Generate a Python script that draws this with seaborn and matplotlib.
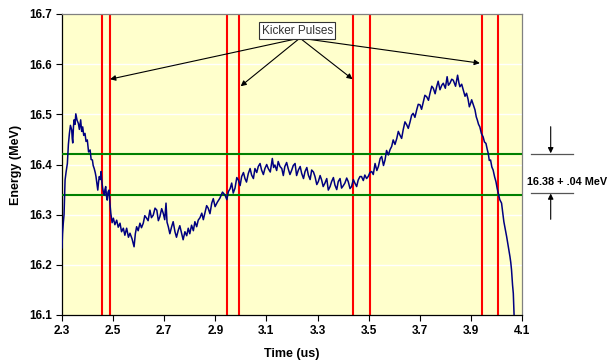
import matplotlib
matplotlib.use("Agg")
import matplotlib.pyplot as plt
import seaborn as sns
import numpy as np

# ---- data ----
time_us = [
2.300,2.302,2.305,2.308,2.312,2.316,2.321,2.325,2.329,2.333,2.338,2.340,2.342,2.345,2.347,2.351,2.354,2.359,2.364,2.368,
2.373,2.377,2.381,2.385,2.390,2.394,2.399,2.404,2.410,2.414,2.419,2.422,2.426,2.430,2.433,2.437,2.440,2.443,2.446,2.450,
2.453,2.456,2.459,2.462,2.466,2.468,2.471,2.474,2.477,2.480,2.484,2.488,2.491,2.496,2.501,2.507,2.514,2.520,2.527,2.533,
2.540,2.546,2.553,2.560,2.566,2.574,2.582,2.587,2.592,2.598,2.605,2.611,2.618,2.624,2.631,2.637,2.644,2.650,2.657,2.664,
2.671,2.677,2.683,2.690,2.696,2.702,2.707,2.711,2.716,2.722,2.729,2.735,2.742,2.748,2.755,2.761,2.768,2.774,2.781,2.788,
2.794,2.800,2.807,2.814,2.820,2.827,2.833,2.840,2.847,2.853,2.859,2.866,2.872,2.879,2.886,2.892,2.899,2.908,2.918,2.928,
2.938,2.945,2.951,2.958,2.964,2.970,2.977,2.984,2.990,2.997,3.003,3.010,3.016,3.022,3.029,3.036,3.042,3.049,3.055,3.062,
3.068,3.075,3.081,3.088,3.094,3.101,3.107,3.115,3.123,3.128,3.133,3.140,3.146,3.153,3.160,3.166,3.172,3.179,3.185,3.192,
3.199,3.205,3.212,3.218,3.225,3.232,3.238,3.245,3.251,3.258,3.264,3.271,3.277,3.284,3.290,3.297,3.303,3.310,3.316,3.322,
3.329,3.336,3.342,3.349,3.355,3.362,3.368,3.375,3.381,3.388,3.394,3.401,3.407,3.414,3.420,3.427,3.433,3.440,3.446,3.453,
3.459,3.466,3.472,3.479,3.485,3.492,3.498,3.505,3.512,3.518,3.525,3.532,3.538,3.545,3.551,3.558,3.564,3.570,3.577,3.584,
3.590,3.596,3.603,3.610,3.616,3.622,3.629,3.635,3.642,3.649,3.655,3.662,3.668,3.674,3.681,3.688,3.694,3.701,3.707,3.714,
3.720,3.727,3.734,3.740,3.747,3.753,3.760,3.766,3.772,3.779,3.786,3.792,3.800,3.807,3.812,3.818,3.825,3.831,3.840,3.848,
3.853,3.857,3.864,3.870,3.877,3.883,3.889,3.894,3.899,3.903,3.910,3.916,3.921,3.925,3.930,3.935,3.941,3.948,3.953,3.959,
3.964,3.968,3.972,3.977,3.982,3.987,3.993,3.998,4.003,4.007,4.013,4.020,4.025,4.029,4.035,4.040,4.046,4.053,4.056,4.059,
4.063,4.066,4.069]

energy_mev = [
16.234,16.262,16.283,16.300,16.369,16.385,16.402,16.440,16.462,16.478,16.469,16.452,16.443,16.476,16.489,16.480,16.501,16.488,16.482,16.470,
16.489,16.466,16.475,16.458,16.462,16.446,16.449,16.425,16.429,16.410,16.409,16.398,16.392,16.384,16.376,16.360,16.349,16.365,16.376,16.370,
16.386,16.366,16.353,16.345,16.339,16.350,16.356,16.337,16.329,16.345,16.349,16.320,16.303,16.284,16.293,16.280,16.289,16.275,16.283,16.266,
16.273,16.259,16.273,16.255,16.263,16.252,16.236,16.262,16.276,16.268,16.283,16.274,16.283,16.298,16.293,16.288,16.309,16.294,16.299,16.313,
16.309,16.288,16.296,16.312,16.303,16.290,16.323,16.285,16.276,16.262,16.276,16.286,16.266,16.255,16.269,16.278,16.263,16.250,16.266,16.258,
16.273,16.262,16.279,16.268,16.286,16.276,16.289,16.294,16.303,16.290,16.303,16.318,16.313,16.302,16.323,16.332,16.316,16.325,16.333,16.345,
16.339,16.330,16.346,16.352,16.363,16.343,16.353,16.374,16.369,16.358,16.376,16.384,16.372,16.365,16.382,16.392,16.379,16.372,16.392,16.384,
16.396,16.402,16.389,16.380,16.392,16.400,16.392,16.385,16.412,16.394,16.399,16.388,16.406,16.396,16.392,16.378,16.396,16.404,16.392,16.380,
16.389,16.398,16.402,16.378,16.389,16.396,16.382,16.372,16.386,16.394,16.379,16.370,16.389,16.385,16.376,16.360,16.366,16.378,16.369,16.356,
16.363,16.372,16.349,16.356,16.366,16.374,16.359,16.350,16.366,16.372,16.353,16.358,16.363,16.373,16.366,16.352,16.356,16.370,16.363,16.356,
16.369,16.376,16.376,16.368,16.379,16.372,16.376,16.384,16.386,16.380,16.402,16.388,16.396,16.412,16.416,16.398,16.409,16.428,16.419,16.430,
16.436,16.449,16.440,16.452,16.466,16.459,16.452,16.469,16.485,16.479,16.472,16.485,16.498,16.502,16.494,16.509,16.520,16.519,16.510,16.525,
16.538,16.535,16.528,16.542,16.556,16.552,16.541,16.555,16.566,16.549,16.558,16.562,16.552,16.575,16.558,16.562,16.570,16.568,16.556,16.578,
16.563,16.555,16.560,16.549,16.536,16.542,16.530,16.515,16.522,16.529,16.518,16.509,16.495,16.489,16.480,16.475,16.462,16.455,16.445,16.442,
16.430,16.422,16.408,16.409,16.395,16.389,16.375,16.366,16.352,16.343,16.330,16.323,16.303,16.286,16.270,16.256,16.238,16.216,16.205,16.190,
16.160,16.143,16.100]

kicker_times = [2.455, 2.487, 2.947, 2.991, 3.440, 3.504, 3.942, 4.005]
band_levels = [16.42, 16.34]
x_ticks = [2.3, 2.5, 2.7, 2.9, 3.1, 3.3, 3.5, 3.7, 3.9, 4.1]
y_ticks = [16.1, 16.2, 16.3, 16.4, 16.5, 16.6, 16.7]
annot_label = "Kicker Pulses"
annot_origin = (3.231, 16.652)
annot_tips = [(2.488, 16.570), (2.999, 16.556), (3.437, 16.570), (3.935, 16.602)]
band_text = "16.38 + .04 MeV"

# ---- figure ----
plt.rcParams['font.family'] = ['Liberation Sans', 'DejaVu Sans']
fig = plt.figure(figsize=(6.10, 3.61), dpi=100)
ax = fig.add_axes([62/610, 1-315/361, (522-62)/610, (315-14)/361])
ax.set_facecolor('#FFFFCC')

for yv in y_ticks[1:-1]:
    ax.axhline(yv, color='white', lw=1.0, zorder=0)

for xv in kicker_times:
    ax.axvline(xv, color='#FF0000', lw=1.5, zorder=2)
for yv in band_levels:
    ax.axhline(yv, color='#008000', lw=1.5, zorder=3)

sns.lineplot(x=time_us, y=energy_mev, ax=ax, color='#000080', lw=1.1,
             estimator=None, sort=False, zorder=4)

ax.set_xlim(2.3, 4.1)
ax.set_ylim(16.1, 16.7)
ax.set_xticks(x_ticks)
ax.set_xticklabels([f"{v:.1f}" for v in x_ticks], fontsize=8.5, fontweight='bold')
ax.set_yticks(y_ticks)
ax.set_yticklabels([f"{v:.1f}" for v in y_ticks], fontsize=8.5, fontweight='bold')
ax.tick_params(direction='out', length=4, width=0.8, pad=3, colors='black')
ax.grid(False)
for s in ['left', 'bottom']:
    ax.spines[s].set_color('black'); ax.spines[s].set_linewidth(0.9)
for s in ['top', 'right']:
    ax.spines[s].set_color('#808080'); ax.spines[s].set_linewidth(0.9)

ax.set_xlabel("Time (us)", fontsize=9, fontweight='bold', labelpad=8)
ax.set_ylabel("Energy (MeV)", fontsize=9, fontweight='bold', labelpad=5)

for tip in annot_tips:
    ax.annotate("", xy=tip, xytext=annot_origin,
                arrowprops=dict(arrowstyle='-|>', color='black', lw=0.8,
                                mutation_scale=8, shrinkA=0, shrinkB=0), zorder=6)
ax.text(3.221, 16.667, annot_label, fontsize=8.5, color='#333333', ha='center', va='center',
        bbox=dict(boxstyle='square,pad=0.2', fc='white', ec='#333333', lw=0.8), zorder=7)

# right-side band annotation (figure pixels)
H = 361
def fp(x, y):
    return (x, H - y)
ax.annotate("", xy=fp(550.7, 153.3), xytext=fp(550.7, 126.7), xycoords='figure pixels',
            textcoords='figure pixels', annotation_clip=False,
            arrowprops=dict(arrowstyle='-|>', color='black', lw=0.8, mutation_scale=8,
                            shrinkA=0, shrinkB=0))
ax.annotate("", xy=fp(550.7, 193.5), xytext=fp(550.7, 219.3), xycoords='figure pixels',
            textcoords='figure pixels', annotation_clip=False,
            arrowprops=dict(arrowstyle='-|>', color='black', lw=0.8, mutation_scale=8,
                            shrinkA=0, shrinkB=0))
from matplotlib.lines import Line2D
fig.add_artist(Line2D([530.7/610, 573.3/610], [1-153.7/H, 1-153.7/H], color='#555555', lw=0.9))
fig.add_artist(Line2D([530.7/610, 573.3/610], [1-192.7/H, 1-192.7/H], color='#555555', lw=0.9))
fig.text(567/610, 1-182/H, band_text, fontsize=7.8, fontweight='bold', ha='center', va='center')

fig.savefig("out.png", dpi=100)
